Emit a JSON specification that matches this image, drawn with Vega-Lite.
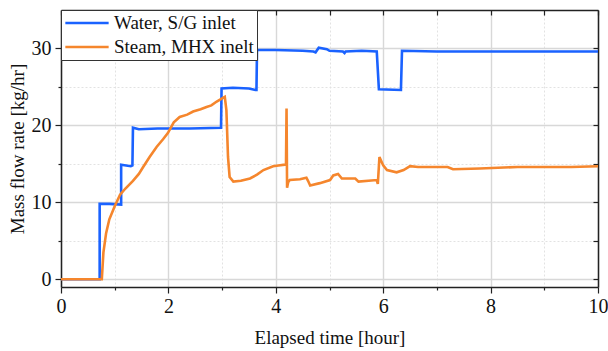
{
  "$schema": "https://vega.github.io/schema/vega-lite/v6.json",
  "width": 537,
  "height": 277,
  "autosize": "none",
  "padding": {"left": 61, "top": 10, "right": 10, "bottom": 64},
  "background": "white",
  "config": {
    "font": "Liberation Serif",
    "view": {"stroke": null}
  },
  "data": {
    "values": [
      {"t": 0, "v": 0, "s": "Water, S/G inlet"},
      {"t": 0.72, "v": 0, "s": "Water, S/G inlet"},
      {"t": 0.72, "v": 9.8, "s": "Water, S/G inlet"},
      {"t": 0.9, "v": 9.8, "s": "Water, S/G inlet"},
      {"t": 1.12, "v": 9.7, "s": "Water, S/G inlet"},
      {"t": 1.12, "v": 14.9, "s": "Water, S/G inlet"},
      {"t": 1.3, "v": 14.7, "s": "Water, S/G inlet"},
      {"t": 1.33, "v": 14.8, "s": "Water, S/G inlet"},
      {"t": 1.34, "v": 19.7, "s": "Water, S/G inlet"},
      {"t": 1.45, "v": 19.5, "s": "Water, S/G inlet"},
      {"t": 1.8, "v": 19.6, "s": "Water, S/G inlet"},
      {"t": 2.4, "v": 19.6, "s": "Water, S/G inlet"},
      {"t": 2.98, "v": 19.7, "s": "Water, S/G inlet"},
      {"t": 2.99, "v": 24.8, "s": "Water, S/G inlet"},
      {"t": 3.2, "v": 24.9, "s": "Water, S/G inlet"},
      {"t": 3.5, "v": 24.8, "s": "Water, S/G inlet"},
      {"t": 3.62, "v": 24.6, "s": "Water, S/G inlet"},
      {"t": 3.64, "v": 24.6, "s": "Water, S/G inlet"},
      {"t": 3.65, "v": 29.8, "s": "Water, S/G inlet"},
      {"t": 4.0, "v": 29.8, "s": "Water, S/G inlet"},
      {"t": 4.5, "v": 29.7, "s": "Water, S/G inlet"},
      {"t": 4.7, "v": 29.6, "s": "Water, S/G inlet"},
      {"t": 4.74, "v": 29.5, "s": "Water, S/G inlet"},
      {"t": 4.8, "v": 30.1, "s": "Water, S/G inlet"},
      {"t": 4.95, "v": 29.9, "s": "Water, S/G inlet"},
      {"t": 5.0, "v": 29.7, "s": "Water, S/G inlet"},
      {"t": 5.25, "v": 29.6, "s": "Water, S/G inlet"},
      {"t": 5.28, "v": 29.4, "s": "Water, S/G inlet"},
      {"t": 5.3, "v": 29.6, "s": "Water, S/G inlet"},
      {"t": 5.6, "v": 29.7, "s": "Water, S/G inlet"},
      {"t": 5.88, "v": 29.6, "s": "Water, S/G inlet"},
      {"t": 5.92, "v": 24.7, "s": "Water, S/G inlet"},
      {"t": 6.33, "v": 24.6, "s": "Water, S/G inlet"},
      {"t": 6.35, "v": 29.7, "s": "Water, S/G inlet"},
      {"t": 7, "v": 29.6, "s": "Water, S/G inlet"},
      {"t": 8, "v": 29.6, "s": "Water, S/G inlet"},
      {"t": 9, "v": 29.6, "s": "Water, S/G inlet"},
      {"t": 10, "v": 29.6, "s": "Water, S/G inlet"},
      {"t": 0, "v": 0, "s": "Steam, MHX inelt"},
      {"t": 0.76, "v": 0, "s": "Steam, MHX inelt"},
      {"t": 0.79, "v": 3.5, "s": "Steam, MHX inelt"},
      {"t": 0.84, "v": 6.0, "s": "Steam, MHX inelt"},
      {"t": 0.9, "v": 7.8, "s": "Steam, MHX inelt"},
      {"t": 1.0, "v": 9.5, "s": "Steam, MHX inelt"},
      {"t": 1.1, "v": 11.0, "s": "Steam, MHX inelt"},
      {"t": 1.2, "v": 11.8, "s": "Steam, MHX inelt"},
      {"t": 1.34, "v": 12.8, "s": "Steam, MHX inelt"},
      {"t": 1.45, "v": 13.7, "s": "Steam, MHX inelt"},
      {"t": 1.53, "v": 14.6, "s": "Steam, MHX inelt"},
      {"t": 1.65, "v": 15.9, "s": "Steam, MHX inelt"},
      {"t": 1.78, "v": 17.2, "s": "Steam, MHX inelt"},
      {"t": 1.9, "v": 18.2, "s": "Steam, MHX inelt"},
      {"t": 1.99, "v": 19.0, "s": "Steam, MHX inelt"},
      {"t": 2.1, "v": 20.4, "s": "Steam, MHX inelt"},
      {"t": 2.21, "v": 21.1, "s": "Steam, MHX inelt"},
      {"t": 2.35, "v": 21.4, "s": "Steam, MHX inelt"},
      {"t": 2.46, "v": 21.8, "s": "Steam, MHX inelt"},
      {"t": 2.6, "v": 22.1, "s": "Steam, MHX inelt"},
      {"t": 2.71, "v": 22.4, "s": "Steam, MHX inelt"},
      {"t": 2.8, "v": 22.6, "s": "Steam, MHX inelt"},
      {"t": 2.9, "v": 23.1, "s": "Steam, MHX inelt"},
      {"t": 3.0, "v": 23.5, "s": "Steam, MHX inelt"},
      {"t": 3.05, "v": 23.7, "s": "Steam, MHX inelt"},
      {"t": 3.08, "v": 22.0, "s": "Steam, MHX inelt"},
      {"t": 3.11, "v": 15.9, "s": "Steam, MHX inelt"},
      {"t": 3.14, "v": 13.3, "s": "Steam, MHX inelt"},
      {"t": 3.21, "v": 12.7, "s": "Steam, MHX inelt"},
      {"t": 3.35, "v": 12.8, "s": "Steam, MHX inelt"},
      {"t": 3.52, "v": 13.1, "s": "Steam, MHX inelt"},
      {"t": 3.65, "v": 13.6, "s": "Steam, MHX inelt"},
      {"t": 3.77, "v": 14.2, "s": "Steam, MHX inelt"},
      {"t": 3.95, "v": 14.7, "s": "Steam, MHX inelt"},
      {"t": 4.05, "v": 14.8, "s": "Steam, MHX inelt"},
      {"t": 4.17, "v": 14.9, "s": "Steam, MHX inelt"},
      {"t": 4.19, "v": 14.9, "s": "Steam, MHX inelt"},
      {"t": 4.2, "v": 22.2, "s": "Steam, MHX inelt"},
      {"t": 4.21, "v": 11.9, "s": "Steam, MHX inelt"},
      {"t": 4.23, "v": 12.6, "s": "Steam, MHX inelt"},
      {"t": 4.26, "v": 12.9, "s": "Steam, MHX inelt"},
      {"t": 4.45, "v": 13.0, "s": "Steam, MHX inelt"},
      {"t": 4.57, "v": 13.2, "s": "Steam, MHX inelt"},
      {"t": 4.6, "v": 12.8, "s": "Steam, MHX inelt"},
      {"t": 4.64, "v": 12.2, "s": "Steam, MHX inelt"},
      {"t": 4.82, "v": 12.5, "s": "Steam, MHX inelt"},
      {"t": 5.01, "v": 12.9, "s": "Steam, MHX inelt"},
      {"t": 5.07, "v": 13.5, "s": "Steam, MHX inelt"},
      {"t": 5.16, "v": 13.7, "s": "Steam, MHX inelt"},
      {"t": 5.23, "v": 13.1, "s": "Steam, MHX inelt"},
      {"t": 5.48, "v": 13.1, "s": "Steam, MHX inelt"},
      {"t": 5.54, "v": 12.7, "s": "Steam, MHX inelt"},
      {"t": 5.88, "v": 12.9, "s": "Steam, MHX inelt"},
      {"t": 5.9, "v": 12.4, "s": "Steam, MHX inelt"},
      {"t": 5.93, "v": 15.9, "s": "Steam, MHX inelt"},
      {"t": 6.0, "v": 14.8, "s": "Steam, MHX inelt"},
      {"t": 6.07, "v": 14.2, "s": "Steam, MHX inelt"},
      {"t": 6.25, "v": 13.9, "s": "Steam, MHX inelt"},
      {"t": 6.38, "v": 14.2, "s": "Steam, MHX inelt"},
      {"t": 6.5, "v": 14.7, "s": "Steam, MHX inelt"},
      {"t": 6.65, "v": 14.6, "s": "Steam, MHX inelt"},
      {"t": 7.2, "v": 14.6, "s": "Steam, MHX inelt"},
      {"t": 7.3, "v": 14.3, "s": "Steam, MHX inelt"},
      {"t": 7.8, "v": 14.4, "s": "Steam, MHX inelt"},
      {"t": 8.5, "v": 14.6, "s": "Steam, MHX inelt"},
      {"t": 9.0, "v": 14.6, "s": "Steam, MHX inelt"},
      {"t": 9.5, "v": 14.6, "s": "Steam, MHX inelt"},
      {"t": 10, "v": 14.7, "s": "Steam, MHX inelt"}
    ]
  },
  "layer": [
    {
      "transform": [{"filter": "datum.s == 'Water, S/G inlet'"}],
      "mark": {"type": "line", "strokeWidth": 2.6},
      "encoding": {
        "x": {
          "field": "t", "type": "quantitative",
          "scale": {"domain": [0, 10], "nice": false, "zero": false},
          "axis": {
            "orient": "bottom",
            "title": "Elapsed time [hour]",
            "values": [0, 1, 2, 3, 4, 5, 6, 7, 8, 9, 10],
            "labelExpr": "datum.value % 2 == 0 ? datum.label : ''",
            "domainColor": "#222222",
            "domainWidth": 1.5,
            "tickColor": "#222222",
            "tickWidth": 1.2,
            "tickSize": {"condition": {"test": "datum.value % 2 == 0", "value": 6}, "value": 3},
            "labelFont": "Liberation Serif",
            "labelFontSize": 20,
            "labelColor": "#111111",
            "labelPadding": 3,
            "labelFlush": false,
            "titleFont": "Liberation Serif",
            "titleFontSize": 19,
            "titleFontWeight": "normal",
            "titleColor": "#111111",
            "titlePadding": 12,
            "grid": true,
            "gridColor": {"condition": {"test": "datum.value % 2 == 0", "value": "#d8d8d8"}, "value": "#e2e2e2"},
            "gridWidth": {"condition": {"test": "datum.value % 2 == 0", "value": 1.4}, "value": 1},
            "gridDash": {"condition": {"test": "datum.value % 2 == 0", "value": []}, "value": [2, 2]}
          }
        },
        "y": {
          "field": "v", "type": "quantitative",
          "scale": {"domain": [-1, 35], "nice": false, "zero": false},
          "axis": {
            "orient": "left",
            "title": "Mass flow rate [kg/hr]",
            "values": [0, 5, 10, 15, 20, 25, 30],
            "labelExpr": "datum.value % 10 == 0 ? datum.label : ''",
            "domainColor": "#222222",
            "domainWidth": 1.5,
            "tickColor": "#222222",
            "tickWidth": 1.2,
            "tickSize": {"condition": {"test": "datum.value % 10 == 0", "value": 6}, "value": 3},
            "labelFont": "Liberation Serif",
            "labelFontSize": 20,
            "labelColor": "#111111",
            "labelPadding": 4,
            "titleFont": "Liberation Serif",
            "titleFontSize": 19,
            "titleFontWeight": "normal",
            "titleColor": "#111111",
            "titlePadding": 4,
            "grid": true,
            "gridColor": {"condition": {"test": "datum.value % 10 == 0", "value": "#d8d8d8"}, "value": "#e2e2e2"},
            "gridWidth": {"condition": {"test": "datum.value % 10 == 0", "value": 1.4}, "value": 1},
            "gridDash": {"condition": {"test": "datum.value % 10 == 0", "value": []}, "value": [2, 2]}
          }
        },
        "color": {
          "field": "s", "type": "nominal",
          "scale": {"domain": ["Water, S/G inlet", "Steam, MHX inelt"], "range": ["#1a62ff", "#f5862d"]},
          "legend": {
            "title": null,
            "orient": "top-left",
            "offset": 0,
            "padding": 3,
            "strokeColor": "#333333",
            "fillColor": "white",
            "symbolType": "M-1,0H4",
            "symbolSize": 300,
            "symbolStrokeWidth": 2.6,
            "labelFont": "Liberation Serif",
            "labelFontSize": 19,
            "labelColor": "#111111",
            "labelOffset": 30,
            "rowPadding": 4,
            "labelLimit": 300
          }
        }
      }
    },
    {
      "transform": [{"filter": "datum.s == 'Steam, MHX inelt'"}],
      "mark": {"type": "line", "strokeWidth": 2.6},
      "encoding": {
        "x": {
          "field": "t", "type": "quantitative",
          "axis": {
            "orient": "top",
            "title": null,
            "values": [0, 1, 2, 3, 4, 5, 6, 7, 8, 9, 10],
            "labels": false,
            "domainColor": "#222222",
            "domainWidth": 1.5,
            "tickColor": "#222222",
            "tickWidth": 1.2,
            "tickSize": -5,
            "grid": false
          }
        },
        "y": {
          "field": "v", "type": "quantitative",
          "axis": {
            "orient": "right",
            "title": null,
            "values": [0, 5, 10, 15, 20, 25, 30],
            "labels": false,
            "domainColor": "#222222",
            "domainWidth": 1.5,
            "tickColor": "#222222",
            "tickWidth": 1.2,
            "tickSize": -5,
            "grid": false
          }
        },
        "color": {"field": "s", "type": "nominal"}
      }
    }
  ],
  "resolve": {"axis": {"x": "independent", "y": "independent"}}
}
